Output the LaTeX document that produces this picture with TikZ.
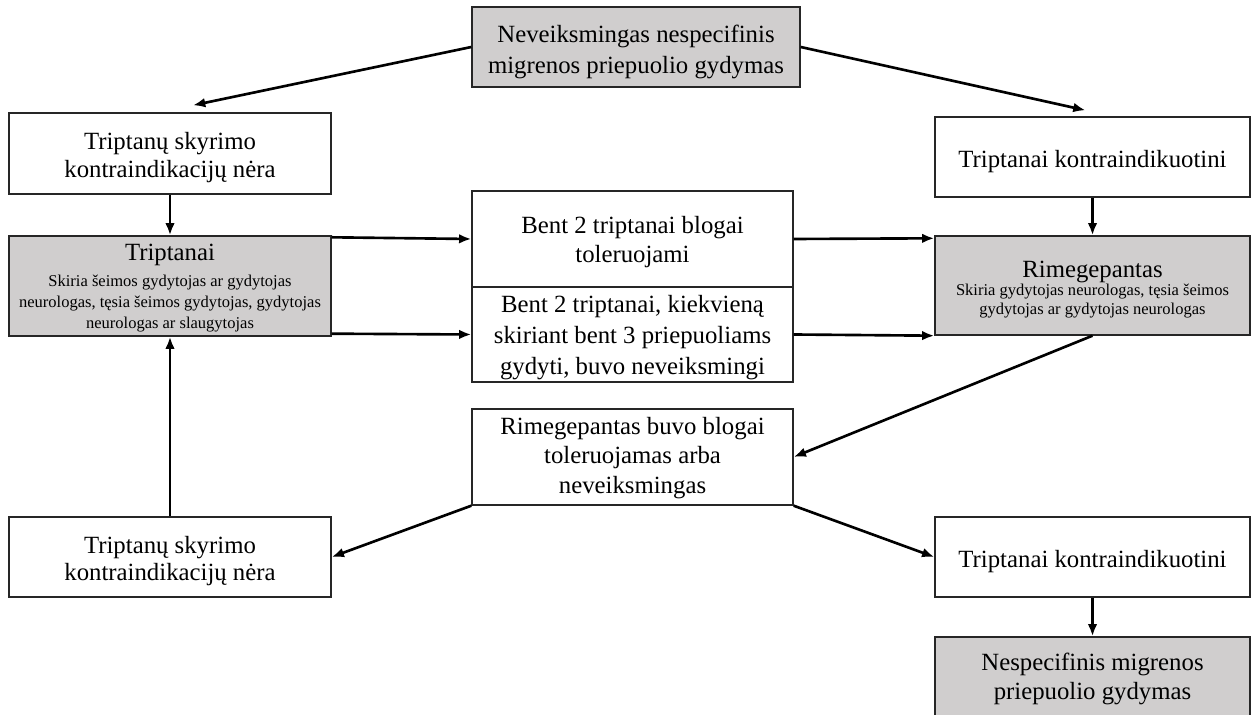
\documentclass[tikz,border=0pt]{standalone}
\usepackage{fontspec}
\setmainfont{Liberation Serif}
\usetikzlibrary{arrows.meta}
\definecolor{boxgrey}{HTML}{D0CECE}
\newcommand\bigf{\fontsize{14.1}{15.6}\selectfont}
\newcommand\smallf{\fontsize{9.4}{10.8}\selectfont}
\newcommand\dn[1][14.5pt]{\rule{0pt}{#1}}
\tikzset{box/.style={rectangle,draw=black!85,line width=0.8pt,align=center,font=\bigf,inner sep=0pt},
  greybox/.style={box,fill=boxgrey},
  arr/.style={-{Latex[length=7pt,width=5.5pt]},line width=1.5pt}}

\begin{document}
\begin{tikzpicture}[x=0.02cm,y=-0.02cm]
      \useasboundingbox (0,0) rectangle (1257,715);
      \node[greybox,minimum width=6.56cm,minimum height=1.6cm] (top) at (636,47) {\dn[15.5pt]Neveiksmingas nespecifinis\\[2pt]migrenos priepuolio gydymas};
      \node[box,minimum width=6.44cm,minimum height=1.62cm] (noci1) at (170,153.5) {\dn Triptanų skyrimo\\kontraindikacijų nėra};
      \node[box,minimum width=6.3cm,minimum height=1.6cm] (ci1) at (1092.5,157) {\dn Triptanai kontraindikuotini};
      \node[greybox,minimum width=6.44cm,minimum height=2cm] (trip) at (170,286) {\dn[13.5pt]Triptanai\\[2pt]
        {\smallf\def\arraystretch{1.12}\begin{tabular}{@{}c@{}}Skiria šeimos gydytojas ar gydytojas\\neurologas, tęsia šeimos gydytojas, gydytojas\\neurologas ar slaugytojas\end{tabular}}};
      \node[box,minimum width=6.42cm,minimum height=1.92cm] (tol) at (632.5,239) {\dn[13pt]Bent 2 triptanai blogai\\[1pt]toleruojami};
      \node[box,minimum width=6.42cm,minimum height=1.9cm] (ineff) at (632.5,334.5) {\dn[13pt]Bent 2 triptanai, kiekvieną\\[2pt]skiriant bent 3 priepuoliams\\[2pt]gydyti, buvo neveiksmingi};
      \node[greybox,minimum width=6.3cm,minimum height=1.98cm] (rim) at (1092.5,285.5) {\dn[15pt]Rimegepantas\\[-1.5pt]
        {\smallf\begin{tabular}{@{}c@{}}Skiria gydytojas neurologas, tęsia šeimos\\gydytojas ar gydytojas neurologas\end{tabular}}};
      \node[box,minimum width=6.42cm,minimum height=1.92cm] (rimfail) at (632.5,457) {\dn[11pt]Rimegepantas buvo blogai\\[1pt]toleruojamas arba\\[1pt]neveiksmingas};
      \node[box,minimum width=6.44cm,minimum height=1.6cm] (noci2) at (170,557) {\dn Triptanų skyrimo\\kontraindikacijų nėra};
      \node[box,minimum width=6.3cm,minimum height=1.6cm] (ci2) at (1092.5,557) {\dn Triptanai kontraindikuotini};
      \node[greybox,minimum width=6.3cm,minimum height=1.68cm] (nonspec) at (1092.5,679) {Nespecifinis migrenos\\[1pt]priepuolio gydymas};

      \draw[arr] (top.west) -- ([shift={(23,-7)}]noci1.north);
      \draw[arr] (top.east) -- ([shift={(-7,-6)}]ci1.north);
      \draw[arr] (noci1) -- (trip);
      \draw[arr] ([yshift=-0.04cm]trip.north east) -- (tol.west);
      \draw[arr] ([yshift=0.06cm]trip.south east) -- (ineff.west);
      \draw[arr] (tol.east) -- ([yshift=-0.06cm]rim.north west);
      \draw[arr] (ineff.east) -- (rim.south west);
      \draw[arr] (ci1) -- (rim);
      \draw[arr] (rim.south) -- (rimfail.east);
      \draw[arr] (rimfail.south west) -- (noci2.east);
      \draw[arr] (rimfail.south east) -- (ci2.west);
      \draw[arr] (noci2) -- (trip);
      \draw[arr] (ci2) -- (nonspec);
    \end{tikzpicture}
\end{document}
